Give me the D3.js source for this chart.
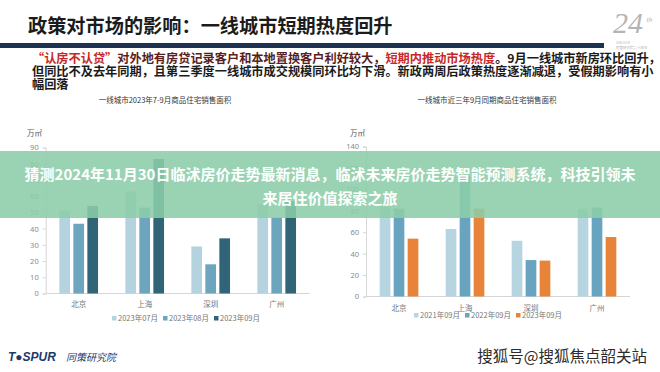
<!DOCTYPE html>
<html>
<head>
<meta charset="utf-8">
<script src="https://cdn.jsdelivr.net/npm/d3@7/dist/d3.min.js"></script>
<style>
  body { margin: 0; background: #fff; }
  svg { display: block; font-family: "Noto Sans CJK SC", "Noto Sans", sans-serif; }
</style>
</head>
<body>
<div id="chart"></div>
<script>
"use strict";
// categories
var cities = ["北京", "上海", "深圳", "广州"];

// left chart: 2023 Jul-Sep, 万㎡
var leftSeries = ["2023年07月", "2023年08月", "2023年09月"];
var leftJul = [51, 63, 29, 55];
var leftAug = [43, 53, 18, 47];
var leftSep = [54, 83, 34, 57];
var leftTicks = [0, 10, 20, 30, 40, 50, 60, 70, 80, 90];

// right chart: September of last three years, 万㎡
var rightSeries = ["2021年09月", "2022年09月", "2023年09月"];
var right2021 = [84, 63, 52, 82];
var right2022 = [82, 112, 34, 83];
var right2023 = [54, 82, 33.5, 55.5];
var rightTicks = [0, 20, 40, 60, 80, 100, 120, 140];

var W = 660, H = 372;
var svg = d3.select("#chart").append("svg").attr("width", W).attr("height", H);

// ---- header ----
svg.append("text").attr("x", 28).attr("y", 33)
  .attr("font-size", 19.2).attr("font-weight", 700).attr("fill", "#1b1b1b")
  .text("政策对市场的影响：一线城市短期热度回升");
svg.append("rect").attr("x", 0).attr("y", 43).attr("width", 604).attr("height", 5).attr("fill", "#1d3150");

// 24 logo
var logo = svg.append("g").attr("fill", "#b4b4b4");
logo.append("text").attr("x", 613).attr("y", 33).attr("font-size", 30)
  .attr("font-style", "italic").attr("font-family", "Liberation Serif, serif").text("24");
logo.append("text").attr("x", 646).attr("y", 22).attr("font-size", 6)
  .attr("font-style", "italic").text("th");
logo.append("text").attr("x", 616).attr("y", 44).attr("font-size", 3.5).text("UNLOCK");
logo.append("text").attr("x", 616).attr("y", 49).attr("font-size", 3.5).text("同策研究院二十四年");

// subtitle paragraph
var para = svg.append("g").attr("font-size", 12.2).attr("font-weight", 700);
var l1 = para.append("text").attr("x", 32).attr("y", 63);
l1.append("tspan").attr("fill", "#c62828").text("“认房不认贷”");
l1.append("tspan").attr("fill", "#5a1e1e").text("对外地有房贷记录客户和本地置换客户利好较大，");
l1.append("tspan").attr("fill", "#c62828").text("短期内推动市场热度");
l1.append("tspan").attr("fill", "#1b1b1b").text("。9月一线城市新房环比回升，");
para.append("text").attr("x", 32).attr("y", 76).attr("fill", "#1b1b1b")
  .text("但同比不及去年同期，且第三季度一线城市成交规模同环比均下滑。新政两周后政策热度逐渐减退，受假期影响有小");
para.append("text").attr("x", 32).attr("y", 89).attr("fill", "#1b1b1b").text("幅回落");

// ---- bar chart helper ----
function barChart(opt) {
  var g = svg.append("g");
  var x0 = d3.scaleBand().domain(cities).range(opt.xr).paddingInner(0.414).paddingOuter(0.207);
  var x1 = d3.scaleBand().domain(opt.series).range([0, x0.bandwidth()]).paddingInner(0.236);
  var y = d3.scaleLinear().domain(opt.ydom).range(opt.yr);

  g.append("text").attr("x", opt.titleX).attr("y", 103).attr("text-anchor", "middle")
    .attr("font-size", 7.5).attr("fill", "#333").text(opt.title);
  g.append("text").attr("x", opt.unitX).attr("y", 136).attr("font-size", 7.5)
    .attr("fill", "#555").text("万㎡");

  var yAxis = g.append("g").attr("transform", "translate(" + opt.xr[0] + ",0)")
    .call(d3.axisLeft(y).tickValues(opt.ticks).tickSize(3).tickPadding(4));
  yAxis.select(".domain").attr("stroke", "#d6d6d6");
  yAxis.selectAll(".tick line").attr("stroke", "#d6d6d6");
  yAxis.selectAll(".tick text").attr("fill", "#8a8a8a").attr("font-size", 7.5)
    .attr("font-family", "Noto Sans, sans-serif");

  g.append("line").attr("x1", opt.xr[0]).attr("x2", opt.xr[1])
    .attr("y1", y(0)).attr("y2", y(0)).attr("stroke", "#d6d6d6");

  var xAxis = g.append("g").attr("transform", "translate(0," + y(0) + ")")
    .call(d3.axisBottom(x0).tickSize(0).tickPadding(opt.catPad));
  xAxis.select(".domain").remove();
  xAxis.selectAll("text").attr("fill", "#777").attr("font-size", 7.5)
    .attr("font-family", "Noto Sans CJK SC, sans-serif");

  var rows = [];
  cities.forEach(function (c, i) {
    opt.values.forEach(function (arr, j) {
      rows.push({ city: c, s: opt.series[j], v: arr[i], color: opt.colors[j] });
    });
  });
  g.selectAll("rect.bar").data(rows).enter().append("rect").attr("class", "bar")
    .attr("x", function (d) { return x0(d.city) + x1(d.s); })
    .attr("width", x1.bandwidth())
    .attr("y", function (d) { return y(d.v); })
    .attr("height", function (d) { return y(0) - y(d.v); })
    .attr("fill", function (d) { return d.color; });

  // legend
  var leg = g.append("g").attr("font-size", 7.5).attr("fill", "#777");
  var lx = opt.legendX;
  opt.series.forEach(function (s, j) {
    var it = leg.append("g").attr("transform", "translate(" + (lx + j * 51) + "," + opt.legendY + ")");
    it.append("rect").attr("x", 0).attr("y", -5).attr("width", 4.5).attr("height", 4.5)
      .attr("fill", opt.colors[j]);
    it.append("text").attr("x", 6).attr("y", 0).text(s);
  });
}

barChart({
  xr: [45.7, 309.7], yr: [293.5, 147.5], ydom: [0, 90], ticks: leftTicks,
  series: leftSeries, values: [leftJul, leftAug, leftSep],
  colors: ["#b4d3df", "#6ca5bd", "#2f6577"],
  title: "一线城市2023年7-9月商品住宅销售面积", titleX: 165, unitX: 27,
  catPad: 8, legendX: 112, legendY: 321
});

barChart({
  xr: [366, 630], yr: [296.5, 146.5], ydom: [0, 140], ticks: rightTicks,
  series: rightSeries, values: [right2021, right2022, right2023],
  colors: ["#b6d5e1", "#68a4bf", "#e8833a"],
  title: "一线城市近三年9月同期商品住宅销售面积", titleX: 487, unitX: 350,
  catPad: 9, legendX: 414, legendY: 318
});

// ---- green banner overlay ----
svg.append("rect").attr("x", 0).attr("y", 151).attr("width", W).attr("height", 67)
  .attr("fill", "rgb(140,205,168)").attr("opacity", 0.88);
var ban = svg.append("g").attr("font-size", 15).attr("font-weight", 700)
  .attr("fill", "#fff").attr("text-anchor", "middle");
ban.append("text").attr("x", 330).attr("y", 180)
  .text("猜测2024年11月30日临沭房价走势最新消息，临沭未来房价走势智能预测系统，科技引领未");
ban.append("text").attr("x", 330).attr("y", 204).text("来居住价值探索之旅");

// ---- footer ----
var ft = svg.append("g");
ft.append("text").attr("x", 8).attr("y", 361).attr("font-size", 12).attr("font-weight", 700)
  .attr("font-style", "italic").attr("fill", "#1d3a6b").attr("font-family", "Liberation Sans, sans-serif")
  .text("T●SPUR");
ft.append("text").attr("x", 66).attr("y", 361).attr("font-size", 10)
  .attr("font-style", "italic").attr("fill", "#1d3a6b").text("同策研究院");
ft.append("text").attr("x", 647).attr("y", 362).attr("text-anchor", "end")
  .attr("font-size", 15.5).attr("fill", "#2c2c2c")
  .attr("stroke", "#fff").attr("stroke-width", 0.6).attr("paint-order", "stroke")
  .text("搜狐号@搜狐焦点韶关站");
</script>
</body>
</html>
